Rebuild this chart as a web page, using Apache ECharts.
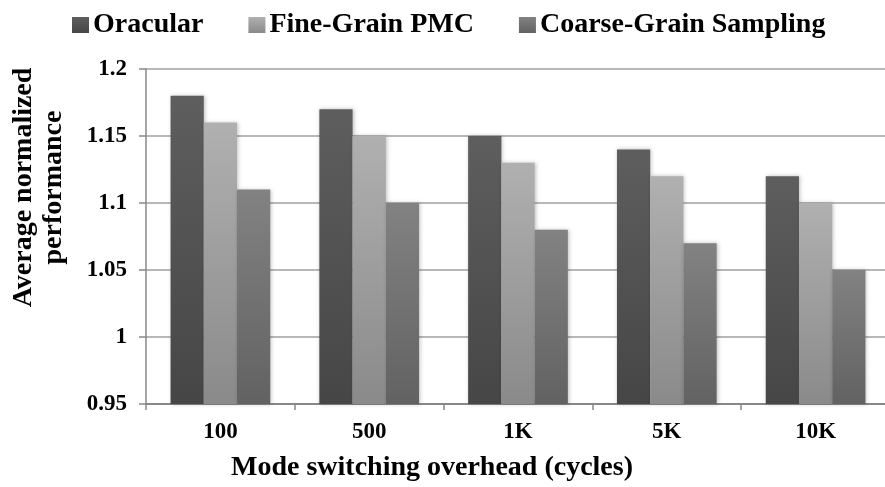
<!DOCTYPE html>
<html>
<head>
<meta charset="utf-8">
<script src="https://cdn.jsdelivr.net/npm/echarts@6/dist/echarts.min.js"></script>
<style>
  html, body { margin: 0; padding: 0; background: #fff; }
  #chart { width: 885px; height: 487px; }
</style>
</head>
<body>
<div id="chart"></div>
<script>
// data
const categories = ["100", "500", "1K", "5K", "10K"];
const oracular = [1.18, 1.17, 1.15, 1.14, 1.12];
const fineGrain = [1.16, 1.15, 1.13, 1.12, 1.10];
const coarseGrain = [1.11, 1.10, 1.08, 1.07, 1.05];
const yTicks = ["0.95", "1", "1.05", "1.1", "1.15", "1.2"];

const font = "Liberation Serif";

function grad(top, bottom) {
  return new echarts.graphic.LinearGradient(0, 0, 0, 1, [
    { offset: 0, color: top },
    { offset: 1, color: bottom }
  ]);
}

function bar(name, data, top, bottom) {
  return {
    name: name,
    type: "bar",
    data: data,
    barGap: "0%",
    barCategoryGap: "33%",
    itemStyle: {
      color: grad(top, bottom),
      shadowColor: "rgba(0,0,0,0.25)",
      shadowBlur: 4,
      shadowOffsetX: 1,
      shadowOffsetY: 0
    }
  };
}

const myChart = echarts.init(document.getElementById("chart"));
myChart.setOption({
  animation: false,
  legend: {
    top: 6,
    left: 67,
    itemWidth: 17,
    itemHeight: 16,
    itemGap: 45,
    icon: "rect",
    textStyle: {
      fontFamily: font,
      fontWeight: "bold",
      fontSize: 28,
      color: "#000",
      padding: [0, 0, 0, -1]
    },
    data: ["Oracular", "Fine-Grain PMC", "Coarse-Grain Sampling"]
  },
  grid: {
    left: 146,
    top: 69,
    width: 744,
    height: 335,
    outerBoundsMode: "none"
  },
  xAxis: {
    type: "category",
    data: categories,
    name: "Mode switching overhead (cycles)",
    nameLocation: "middle",
    nameGap: 50,
    nameTextStyle: {
      fontFamily: font,
      fontWeight: "bold",
      fontSize: 28,
      color: "#000",
      padding: [0, 0, 0, -172]
    },
    axisLine: { show: true, lineStyle: { color: "#888", width: 2 } },
    axisTick: { show: true, length: 6, lineStyle: { color: "#888", width: 1.5 } },
    axisLabel: {
      margin: 17,
      fontFamily: font,
      fontWeight: "bold",
      fontSize: 23,
      color: "#000"
    }
  },
  yAxis: {
    type: "value",
    min: 0.95,
    max: 1.2,
    interval: 0.05,
    name: "Average normalized\nperformance",
    nameLocation: "middle",
    nameGap: 77,
    nameTextStyle: {
      fontFamily: font,
      fontWeight: "bold",
      fontSize: 28,
      lineHeight: 30,
      color: "#000",
      padding: [0, 0, 0, 98]
    },
    axisLine: { show: true, lineStyle: { color: "#888", width: 1.5 } },
    axisTick: { show: true, inside: false, length: 7, lineStyle: { color: "#888", width: 1.5 } },
    splitLine: { show: true, lineStyle: { color: "#a0a0a0", width: 1.5 } },
    axisLabel: {
      margin: 19,
      fontFamily: font,
      fontWeight: "bold",
      fontSize: 23,
      color: "#000",
      formatter: function (v) {
        const i = Math.round((v - 0.95) / 0.05);
        return yTicks[i];
      }
    }
  },
  series: [
    bar("Oracular", oracular, "#5e5e5e", "#464646"),
    bar("Fine-Grain PMC", fineGrain, "#b0b0b0", "#8a8a8a"),
    bar("Coarse-Grain Sampling", coarseGrain, "#828282", "#626262")
  ]
});
</script>
</body>
</html>
